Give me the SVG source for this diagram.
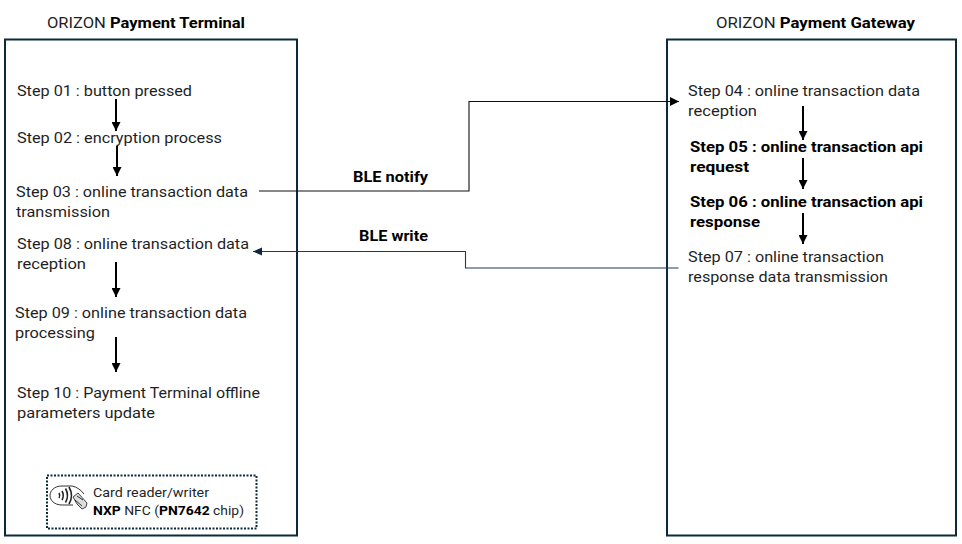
<svg xmlns="http://www.w3.org/2000/svg" width="962" height="544" viewBox="0 0 962 544">
<style>
text{font-family:"Roboto","Liberation Sans",sans-serif;font-size:15px;fill:#1f1f1f}
.b{font-weight:700;fill:#000}
.box{fill:#fff;stroke:#0b2b3c;stroke-width:2}
.s{font-size:13.3px}
.ar{fill:none;stroke:#000;stroke-width:2;marker-end:url(#h)}
.ic{fill:none;stroke:#333;stroke-width:1}
</style>
<defs>
<marker id="h" markerUnits="userSpaceOnUse" markerWidth="10" markerHeight="9" refX="9" refY="4.5" orient="auto"><path d="M0 0L9 4.5L0 9Z" fill="#000"/></marker>
<marker id="n" markerUnits="userSpaceOnUse" markerWidth="10" markerHeight="9" refX="9" refY="4" orient="auto"><path d="M0 0L9 4L0 8Z" fill="#0e2841"/></marker>
</defs>
<rect width="962" height="544" fill="#fff"/>
<g id="terminal">
<rect class="box" x="5" y="39.500" width="292" height="496"/>
<text x="47" y="28" textLength="198" lengthAdjust="spacingAndGlyphs">ORIZON <tspan class="b">Payment Terminal</tspan></text>
</g>
<g id="gateway">
<rect class="box" x="667" y="39.500" width="289" height="496"/>
<text x="716" y="28" textLength="199" lengthAdjust="spacingAndGlyphs">ORIZON <tspan class="b">Payment Gateway</tspan></text>
</g>
<g id="connectors">
<path d="M259 191H469V101.500H679" fill="none" stroke="#111" stroke-width="1.100" marker-end="url(#h)"/>
<path d="M678.500 268H465.500V251.500H253" fill="none" stroke="#1c3a57" stroke-width="1.100" marker-end="url(#n)"/>
<path class="ar" d="M116 99V131"/>
<path class="ar" d="M117 146V176"/>
<path class="ar" d="M116 262V297"/>
<path class="ar" d="M116 337V372"/>
<path class="ar" d="M803 106V140"/>
<path class="ar" d="M803 158V189"/>
<path class="ar" d="M803 213V244"/>
</g>
<g id="step01"><text x="17" y="96" textLength="175" lengthAdjust="spacingAndGlyphs">Step 01 : button pressed</text></g>
<g id="step02"><text x="17" y="143" textLength="205" lengthAdjust="spacingAndGlyphs">Step 02 : encryption process</text></g>
<g id="step03"><text x="16" y="197" textLength="232" lengthAdjust="spacingAndGlyphs">Step 03 : online transaction data</text><text x="16" y="217" textLength="94" lengthAdjust="spacingAndGlyphs">transmission</text></g>
<g id="step08"><text x="17" y="249" textLength="232" lengthAdjust="spacingAndGlyphs">Step 08 : online transaction data</text><text x="17" y="269" textLength="69" lengthAdjust="spacingAndGlyphs">reception</text></g>
<g id="step09"><text x="15" y="318" textLength="232" lengthAdjust="spacingAndGlyphs">Step 09 : online transaction data</text><text x="15" y="338" textLength="80" lengthAdjust="spacingAndGlyphs">processing</text></g>
<g id="step10"><text x="17" y="398" textLength="243" lengthAdjust="spacingAndGlyphs">Step 10 : Payment Terminal offline</text><text x="17" y="418" textLength="138" lengthAdjust="spacingAndGlyphs">parameters update</text></g>
<g id="step04"><text x="688" y="96" textLength="232" lengthAdjust="spacingAndGlyphs">Step 04 : online transaction data</text><text x="688" y="116" textLength="69" lengthAdjust="spacingAndGlyphs">reception</text></g>
<g id="step05"><text class="b" x="690" y="152" textLength="233" lengthAdjust="spacingAndGlyphs">Step 05 : online transaction api</text><text class="b" x="690" y="172" textLength="59" lengthAdjust="spacingAndGlyphs">request</text></g>
<g id="step06"><text class="b" x="690" y="207" textLength="233" lengthAdjust="spacingAndGlyphs">Step 06 : online transaction api</text><text class="b" x="690" y="227" textLength="70" lengthAdjust="spacingAndGlyphs">response</text></g>
<g id="step07"><text x="688" y="262" textLength="196" lengthAdjust="spacingAndGlyphs">Step 07 : online transaction</text><text x="688" y="282" textLength="200" lengthAdjust="spacingAndGlyphs">response data transmission</text></g>
<g id="labels">
<text class="b" x="353" y="182" textLength="75" lengthAdjust="spacingAndGlyphs">BLE notify</text>
<text class="b" x="359" y="241" textLength="69" lengthAdjust="spacingAndGlyphs">BLE write</text>
</g>
<g id="card-reader">
<rect x="47" y="475.500" width="209.500" height="53" fill="#fff" stroke="#0b2b3c" stroke-width="2" stroke-dasharray="2 1.500"/>
<path class="ic" d="M72 486H62C54 486 50 491 50 495.500S54 505 62 505H73"/>
<path class="ic" d="M72 486C77 487 81 490 84 494"/>
<path d="M59 493q1.500 2.500 0 5M62 491q2.500 4.500 0 9M65.500 488.500q4 7 0 14M69 487q5 8.500 0 17" fill="none" stroke="#222" stroke-width="1.600"/>
<path d="M73 497l5-4 9 10-1 4-4 2-5-5z" fill="#ddd" stroke="#444" stroke-width="1"/>
<path class="ic" d="M77 496l6 4M75 500l7 6"/>
<text class="s" x="93" y="497" textLength="116" lengthAdjust="spacingAndGlyphs">Card reader/writer</text>
<text class="s" x="93" y="515" textLength="151" lengthAdjust="spacingAndGlyphs"><tspan class="b">NXP</tspan> NFC (<tspan class="b">PN7642</tspan> chip)</text>
</g>
</svg>
